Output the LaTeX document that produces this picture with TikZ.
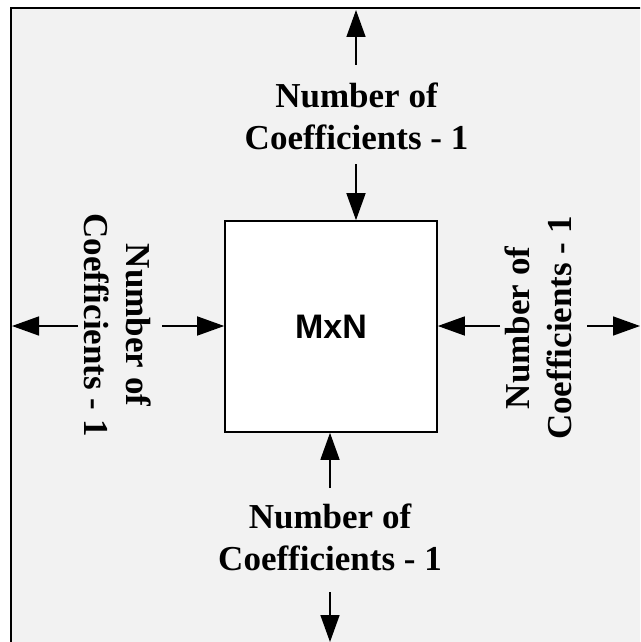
\documentclass[tikz,border=0pt]{standalone}
\usepackage{fontspec}
\setmainfont{Liberation Serif}
\newfontfamily\boxfont{Liberation Sans}
\usetikzlibrary{arrows.meta}
\definecolor{panel}{HTML}{F2F2F2}
\begin{document}
\begin{tikzpicture}[x=1pt,y=-1pt,
  lab/.style={font=\fontsize{35}{42}\selectfont\bfseries, align=center, inner sep=0pt},
  arr/.style={-{Triangle[length=27pt,width=19pt]}, line width=1.5pt},
  blockbox/.style={draw, fill=white, line width=1.6pt, minimum width=212pt,
    minimum height=211pt, inner sep=0pt,
    font=\boxfont\fontsize{34}{40}\selectfont\bfseries}]
\useasboundingbox (0,0) rectangle (640,642);
\clip (0,0) rectangle (640,642);
% panel, running past the right and bottom edges
\draw[fill=panel, line width=1.8pt] (11,8) rectangle (720,720);

% central block
\node[blockbox] (box) at (331,326.5) {MxN};

% labels on the four sides
\node[lab] (ltop) at (356.5,116) {Number of\\Coefficients - 1};
\node[lab] (lbot) at (330,537) {Number of\\Coefficients - 1};
\node[lab, rotate=-90] (lleft) at (118,325) {Number of\\Coefficients - 1};
\node[lab, rotate=90] (lright) at (538,328) {Number of\\Coefficients - 1};

% connector end points
\coordinate (topOutS) at (356,65);
\coordinate (topOutE) at (356,10);
\coordinate (topIn) at (356,164);
\coordinate (botIn) at (330,488);
\coordinate (botOutS) at (330,592);
\coordinate (botOutE) at (330,642);
\coordinate (leftIn) at (162,326);
\coordinate (leftOutS) at (78,326);
\coordinate (leftOutE) at (12,326);
\coordinate (rightIn) at (500,326);
\coordinate (rightOutS) at (587,326);
\coordinate (rightOutE) at (640,326);

% arrows into the block
\draw[arr] (topIn) -- (topIn |- box.north);
\draw[arr] (botIn) -- (botIn |- box.south);
\draw[arr] (leftIn) -- (leftIn -| box.west);
\draw[arr] (rightIn) -- (rightIn -| box.east);

% arrows leaving the panel
\draw[arr] (topOutS) -- (topOutE);
\draw[arr] (botOutS) -- (botOutE);
\draw[arr] (leftOutS) -- (leftOutE);
\draw[arr] (rightOutS) -- (rightOutE);
\end{tikzpicture}
\end{document}
